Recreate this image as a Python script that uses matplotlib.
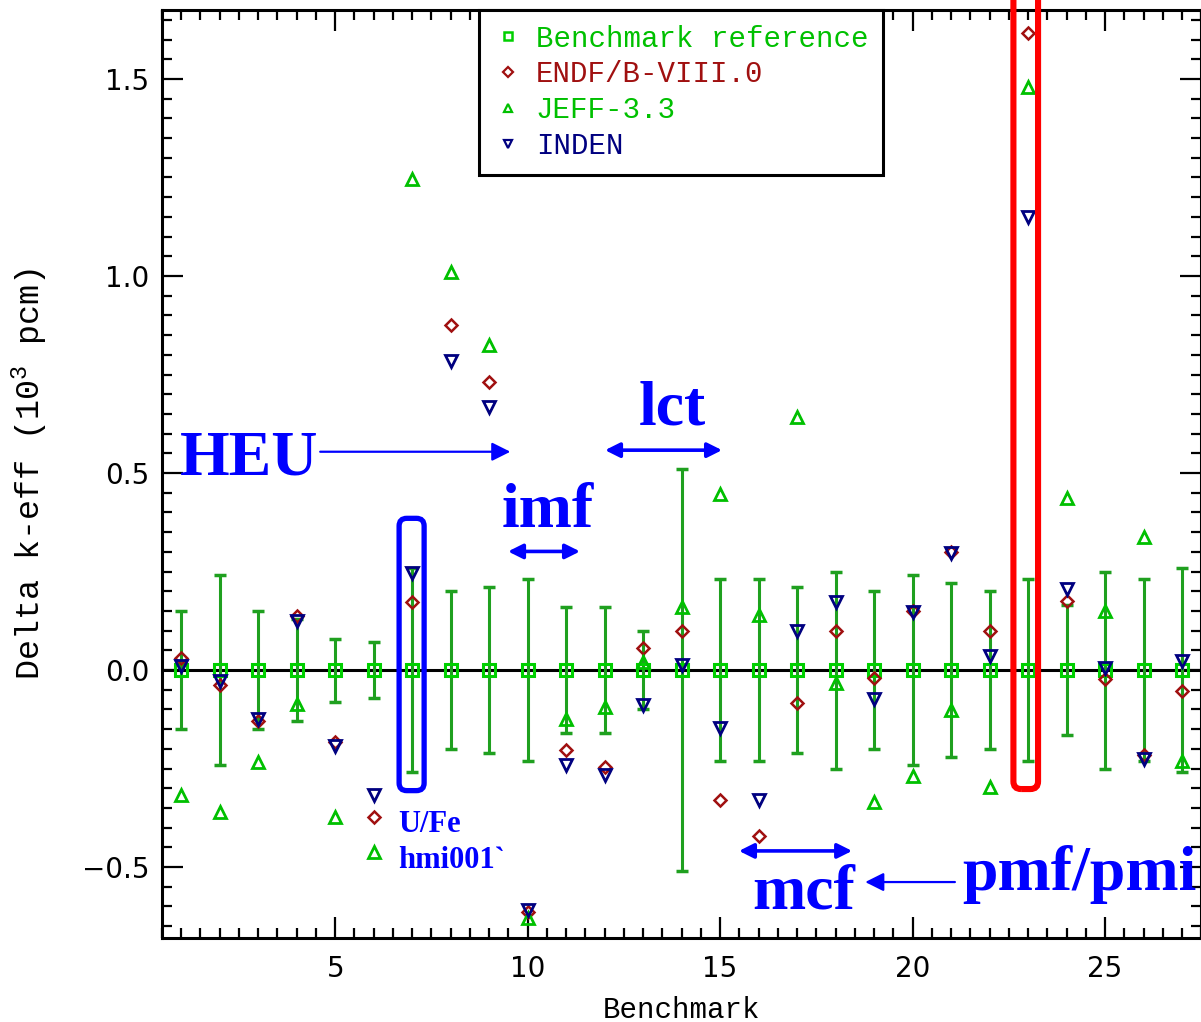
import matplotlib
matplotlib.use("Agg")
import matplotlib.pyplot as plt
from matplotlib.lines import Line2D
from matplotlib.patches import FancyBboxPatch
from matplotlib.ticker import MultipleLocator

# benchmark cases 1..27, delta k-eff in 10^3 pcm
bench = list(range(1, 28))
unc = [0.15, 0.24, 0.15, 0.13, 0.08, 0.07, 0.26, 0.20, 0.21, 0.23,
       0.16, 0.16, 0.10, 0.51, 0.23, 0.23, 0.21, 0.25, 0.20, 0.24,
       0.22, 0.20, 0.23, 0.165, 0.25, 0.23, 0.26]
ref = [0.0] * 27
endf = [0.03, -0.038, -0.129, 0.137, -0.182, -0.372, 0.173, 0.875, 0.732, -0.615,
        -0.203, -0.247, 0.055, 0.10, -0.33, -0.421, -0.083, 0.10, -0.021, 0.15,
        0.30, 0.10, 1.616, 0.176, -0.022, -0.215, -0.052]
jeff = [-0.317, -0.36, -0.233, -0.085, -0.372, -0.461, 1.246, 1.011, 0.825, -0.628,
        -0.123, -0.095, 0.021, 0.161, 0.447, 0.14, 0.643, -0.034, -0.334, -0.268,
        -0.102, -0.298, 1.479, 0.436, 0.151, 0.338, -0.231]
inden = [0.01, -0.027, -0.123, 0.125, -0.193, -0.317, 0.245, 0.783, 0.668, -0.61,
         -0.241, -0.266, -0.089, 0.013, -0.148, -0.33, 0.099, 0.173, -0.074, 0.147,
         0.297, 0.0355, 1.149, 0.205, 0.005, -0.227, 0.022]

labels = ["Benchmark reference", "ENDF/B-VIII.0", "JEFF-3.3", "INDEN"]
c_ref = "#00d000"
c_bar = "#1fa01f"
c_endf = "#a01010"
c_jeff = "#00c000"
c_inden = "#000080"
blue = "#0000ff"

mono = "Liberation Mono"
serif = "Liberation Serif"
plt.rcParams["mathtext.default"] = "regular"

fig = plt.figure(figsize=(12.01, 10.22), dpi=100)
W, H = 1201, 1022
ax = fig.add_axes([162 / W, 1 - 938 / H, (1201.25 - 162) / W, (938 - 10) / H])
ax.set_xlim(0.5, 27.5)
ax.set_ylim(-0.68, 1.675)

ax.axhline(0, color="k", lw=2.2, zorder=1)
ax.errorbar(bench, ref, yerr=unc, fmt="none", ecolor=c_bar, elinewidth=2.2,
            capsize=4, capthick=2.5, zorder=2)
ax.plot(bench, ref, ls="none", marker="s", ms=9, mfc="none", mec=c_ref, mew=2.2, zorder=3)
ax.plot(bench, endf, ls="none", marker="D", ms=6, mfc="none", mec=c_endf, mew=1.8, zorder=4)
ax.plot(bench, jeff, ls="none", marker="^", ms=8, mfc="none", mec=c_jeff, mew=2, zorder=4)
ax.plot(bench, inden, ls="none", marker="v", ms=8, mfc="none", mec=c_inden, mew=2, zorder=5)

# axes styling
for s in ax.spines.values():
    s.set_linewidth(2.2)
ax.xaxis.set_major_locator(MultipleLocator(5))
ax.xaxis.set_minor_locator(MultipleLocator(0.5))
ax.yaxis.set_major_locator(MultipleLocator(0.5))
ax.yaxis.set_minor_locator(MultipleLocator(0.05))
ax.tick_params(which="both", direction="in", top=True, right=True, width=1.6)
ax.tick_params(which="major", length=15)
ax.tick_params(which="minor", length=7.5)
ax.tick_params(axis="x", labelsize=20, pad=12)
ax.tick_params(axis="y", labelsize=20, pad=9)

ax.set_xlabel("Benchmark", family=mono, fontsize=21)
ax.xaxis.set_label_coords(0.5, -0.062)
ax.set_ylabel("Delta k-eff (10$^{3}$ pcm)", family=mono, fontsize=24)
ax.yaxis.set_label_coords(-0.108, 0.5)

# legend
handles = [
    Line2D([], [], ls="none", marker="s", ms=6, mfc="none", mec=c_ref, mew=1.8),
    Line2D([], [], ls="none", marker="D", ms=5, mfc="none", mec=c_endf, mew=1.6),
    Line2D([], [], ls="none", marker="^", ms=6, mfc="none", mec=c_jeff, mew=1.6),
    Line2D([], [], ls="none", marker="v", ms=6, mfc="none", mec=c_inden, mew=1.6),
]
leg = ax.legend(handles, labels, loc="upper left", bbox_to_anchor=(0.305, 1.0),
                borderaxespad=0, prop={"family": mono, "size": 21},
                labelcolor=[c_jeff, c_endf, c_jeff, c_inden],
                handlelength=1.0, handletextpad=0.45, borderpad=0.5,
                labelspacing=0.27, fancybox=False, framealpha=1, edgecolor="k")
leg.get_frame().set_linewidth(2.2)

# group labels and arrows
tfont = dict(family=serif, weight="bold", color=blue, fontsize=46, va="baseline")
ax.text(0.975, 0.495, "HEU", ha="left", **tfont)
ax.text(10.53, 0.363, "imf", ha="center", **tfont)
ax.text(13.75, 0.622, "lct", ha="center", **tfont)
ax.text(17.17, -0.605, "mcf", ha="center", **tfont)
ax.text(21.29, -0.558, "pmf/pmi", ha="left", **tfont)
sfont = dict(family=serif, weight="bold", color=blue, fontsize=22, va="baseline", ha="left")
ax.text(6.64, -0.411, "U/Fe", **sfont)
ax.text(6.64, -0.503, "hmi001`", **sfont)

one = dict(arrowstyle="-|>", color=blue, lw=1.6, mutation_scale=28, shrinkA=0, shrinkB=0)
two = dict(arrowstyle="<|-|>", color=blue, lw=2.6, mutation_scale=22, shrinkA=0, shrinkB=0)
ax.annotate("", xy=(9.55, 0.554), xytext=(4.61, 0.554), arrowprops=one)
ax.annotate("", xy=(18.77, -0.538), xytext=(21.1, -0.538), arrowprops=one)
ax.annotate("", xy=(11.36, 0.301), xytext=(9.49, 0.301), arrowprops=two)
ax.annotate("", xy=(15.05, 0.558), xytext=(12.01, 0.558), arrowprops=two)
ax.annotate("", xy=(18.43, -0.459), xytext=(15.49, -0.459), arrowprops=two)

# rounded boxes around highlighted cases
bb = ax.get_window_extent()
px_x = bb.width / 27.0
px_y = bb.height / (1.675 + 0.68)
aspect = px_x / px_y
ax.add_patch(FancyBboxPatch((6.66, -0.306), 0.65, 0.691,
                            boxstyle="round,pad=0,rounding_size=0.2",
                            mutation_aspect=aspect, fill=False, ec=blue, lw=3.8,
                            zorder=6))
ax.add_patch(FancyBboxPatch((22.62, -0.302), 0.64, 2.2,
                            boxstyle="round,pad=0,rounding_size=0.2",
                            mutation_aspect=aspect, fill=False, ec="#ff0000", lw=4.4,
                            zorder=6, clip_on=False))

fig.savefig("out.png", dpi=100)
